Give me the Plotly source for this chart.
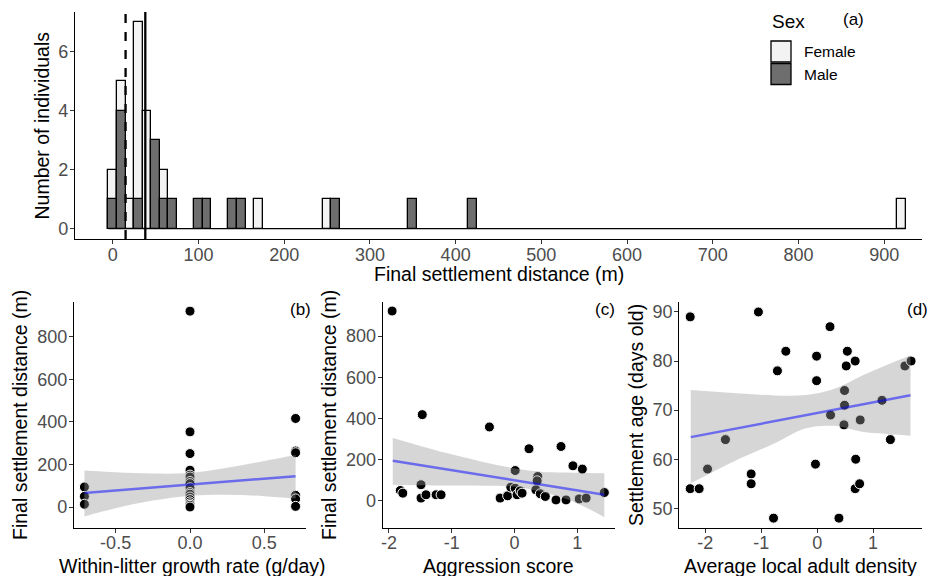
import plotly.graph_objects as go

W, H = 930, 576
FONT = "Liberation Sans, Arial, sans-serif"

# ---------------- (a) histogram data (bin centres, width 10 m) ----------------
female_bins = [0, 10, 20, 30, 40, 60, 170, 250, 920]
female_counts = [2, 5, 1, 7, 4, 2, 1, 1, 1]
male_bins = [0, 10, 30, 50, 60, 70, 100, 110, 140, 150, 260, 350, 420]
male_counts = [1, 4, 1, 3, 1, 1, 1, 1, 1, 1, 1, 1, 1]
bin_width = 10
hist_first_bin, hist_last_bin = 0, 920
dashed_line_x = 15
solid_line_x = 38
hist_xticks = [0, 100, 200, 300, 400, 500, 600, 700, 800, 900]
hist_yticks = [0, 2, 4, 6]

# ---------------- (b) growth rate vs distance ----------------
growth_x = [-0.71, -0.71, -0.71,
            0, 0, 0, 0, 0, 0, 0, 0, 0, 0, 0, 0, 0, 0, 0, 0, 0,
            0.71, 0.71, 0.71, 0.71, 0.71, 0.71]
growth_dist = [94, 50, 13,
               920, 353, 251, 173, 150, 141, 120, 110, 90, 68, 60, 47, 35, 24, 15, 8, 0,
               416, 263, 255, 55, 38, 3]
growth_fit_x = [-0.71, 0.71]
growth_fit_y = [66, 145]
growth_band_x = [-0.71, -0.5, -0.25, 0, 0.25, 0.5, 0.71]
growth_band_hi = [171, 163, 157, 160, 184, 216, 244]
growth_band_lo = [-44, -6, 30, 53, 58, 51, 40]

# ---------------- (c) aggression vs distance ----------------
aggr_x = [-1.95, -1.47, -1.82, -1.78, -1.49, -1.49, -1.41, -1.25, -1.17,
          -0.40, -0.23, -0.11, -0.06, 0.01, 0.01, 0.04, 0.09, 0.12,
          0.23, 0.37, 0.36, 0.34, 0.41, 0.49, 0.66, 0.74, 0.82,
          0.93, 1.03, 1.08, 1.14, 1.43]
aggr_dist = [922, 418, 49, 36, 77, 12, 28, 28, 28,
             358, 12, 23, 65, 146, 60, 28, 47, 36,
             252, 117, 96, 52, 33, 20, 3, 263, 3,
             169, 8, 153, 12, 39]
aggr_fit_x = [-1.94, 1.43]
aggr_fit_y = [194, 28]
aggr_band_x = [-1.94, -1.5, -1.08, -0.5, -0.02, 0.4, 0.78, 1.1, 1.43]
aggr_band_hi = [304, 266, 231, 188, 158, 140, 136, 134, 133]
aggr_band_lo = [77, 75, 73, 72, 68, 44, 12, -28, -81]

# ---------------- (d) density vs settlement age ----------------
dens_x = [-2.27, -2.27, -2.11, -1.96, -1.64, -1.18, -1.18, -1.05, -0.78, -0.71,
          -0.56, -0.01, -0.01, -0.03, 0.23, 0.24, 0.39, 0.48, 0.49, 0.49,
          0.54, 0.52, 0.68, 0.69, 0.68, 0.76, 0.77, 1.16, 1.31, 1.57, 1.68]
dens_age = [89, 54, 54, 58, 64, 57, 55, 90, 48, 78,
            82, 81, 76, 59, 87, 69, 48, 67, 71, 74,
            82, 79, 80, 60, 54, 55, 68, 72, 64, 79, 80]
dens_fit_x = [-2.26, 1.67]
dens_fit_y = [64.5, 73.05]
dens_band_x = [-2.26, -1.5, -0.75, -0.2, 0.3, 0.8, 1.2, 1.67]
dens_band_hi = [74.1, 73.5, 73.0, 73.1, 74.3, 77.0, 79.0, 81.2]
dens_band_lo = [55.1, 59.5, 63.3, 66.3, 66.8, 65.6, 65.2, 64.8]

tick_m = [-0.5, 0, 0.5]
tick_m_text = ["-0.5", "0.0", "0.5"]
tick_int = [-2, -1, 0, 1]
tick_int_text = ["-2", "-1", "0", "1"]
dist_ticks = [0, 200, 400, 600, 800]
age_ticks = [50, 60, 70, 80, 90]

FEMALE_FILL = "#F3F3F3"
MALE_FILL = "#6E6E6E"
RIBBON = "rgba(153,153,153,0.4)"
FITLINE = "rgba(0,0,255,0.5)"


def px(x):
    return x / W


def py(y):
    return 1 - y / H


fig = go.Figure()

# ---- histogram ----
fig.add_trace(go.Bar(x=female_bins, y=female_counts, width=bin_width,
                     marker=dict(color=FEMALE_FILL, line=dict(color="black", width=1.3)),
                     name="Female", showlegend=False, xaxis="x", yaxis="y"))
fig.add_trace(go.Bar(x=male_bins, y=male_counts, width=bin_width,
                     marker=dict(color=MALE_FILL, line=dict(color="black", width=1.3)),
                     name="Male", showlegend=False, xaxis="x", yaxis="y"))
fig.add_trace(go.Scatter(x=[hist_first_bin - bin_width / 2, hist_last_bin + bin_width / 2],
                         y=[0, 0], mode="lines", line=dict(color="black", width=1.3),
                         showlegend=False, hoverinfo="skip", xaxis="x", yaxis="y"))


def scatter_panel(xs, ys, fx, fy, bx, bhi, blo, xa, ya):
    fig.add_trace(go.Scatter(x=xs, y=ys, mode="markers",
                             marker=dict(color="black", size=10, line=dict(color="white", width=1)),
                             showlegend=False, xaxis=xa, yaxis=ya))
    fig.add_trace(go.Scatter(x=bx, y=blo, mode="lines", line=dict(width=0, color=RIBBON),
                             line_shape="spline", showlegend=False, hoverinfo="skip",
                             xaxis=xa, yaxis=ya))
    fig.add_trace(go.Scatter(x=bx, y=bhi, mode="lines", fill="tonexty", fillcolor=RIBBON,
                             line=dict(width=0, color=RIBBON), line_shape="spline",
                             showlegend=False, hoverinfo="skip", xaxis=xa, yaxis=ya))
    fig.add_trace(go.Scatter(x=fx, y=fy, mode="lines", line=dict(color=FITLINE, width=2.5),
                             showlegend=False, xaxis=xa, yaxis=ya))


scatter_panel(growth_x, growth_dist, growth_fit_x, growth_fit_y,
              growth_band_x, growth_band_hi, growth_band_lo, "x2", "y2")
scatter_panel(aggr_x, aggr_dist, aggr_fit_x, aggr_fit_y,
              aggr_band_x, aggr_band_hi, aggr_band_lo, "x3", "y3")
scatter_panel(dens_x, dens_age, dens_fit_x, dens_fit_y,
              dens_band_x, dens_band_hi, dens_band_lo, "x4", "y4")

tickfont = dict(family=FONT, size=18, color="#4D4D4D")
titlefont = dict(family=FONT, size=19.5, color="black")


def axis(domain, rng, tickvals, anchor, ticktext=None, standoff=-6):
    d = dict(domain=domain, range=rng, tickvals=tickvals, showline=True, linecolor="black",
             linewidth=1.2, ticks="outside", ticklen=4, tickwidth=1, tickcolor="#333333",
             tickfont=tickfont, showgrid=False, zeroline=False, anchor=anchor,
             automargin=False, ticklabelstandoff=standoff)
    if ticktext is not None:
        d["ticktext"] = ticktext
    return d


bot_dom = [py(528.3), py(302)]
fig.update_layout(
    width=W, height=H, margin=dict(l=0, r=0, t=0, b=0),
    paper_bgcolor="white", plot_bgcolor="white", barmode="overlay", bargap=0,
    font=dict(family=FONT),
    xaxis=axis([px(75), px(922)], [-44, 944], hist_xticks, "y", standoff=-5),
    yaxis=axis([py(239), py(12)], [-0.35, 7.35], hist_yticks, "x", standoff=-2),
    xaxis2=axis([px(74), px(306)], [-0.78, 0.78], tick_m, "y2", tick_m_text, standoff=-6),
    yaxis2=axis(bot_dom, [-100, 963], dist_ticks, "x2", standoff=-2),
    xaxis3=axis([px(382.7), px(615)], [-2.1, 1.6], tick_int, "y3", tick_int_text, standoff=-6),
    yaxis3=axis(bot_dom, [-135, 966], dist_ticks, "x3", standoff=-2),
    xaxis4=axis([px(679.3), px(921.7)], [-2.465, 1.87], tick_int, "y4", tick_int_text,
                standoff=-6),
    yaxis4=axis(bot_dom, [45.93, 92.03], age_ticks, "x4", standoff=-2),
)

# reference lines in panel (a)
fig.add_shape(type="line", xref="x", yref="y domain", x0=dashed_line_x, x1=dashed_line_x,
              y0=0, y1=1, line=dict(color="black", width=2.3, dash="dash"))
fig.add_shape(type="line", xref="x", yref="y domain", x0=solid_line_x, x1=solid_line_x,
              y0=0, y1=1, line=dict(color="black", width=2.3))

# legend (drawn manually to match key size)
fig.add_shape(type="rect", xref="paper", yref="paper", x0=px(771), x1=px(791),
              y0=py(62), y1=py(41), fillcolor=FEMALE_FILL, line=dict(color="black", width=1.3))
fig.add_shape(type="rect", xref="paper", yref="paper", x0=px(771), x1=px(791),
              y0=py(84.5), y1=py(63.5), fillcolor=MALE_FILL, line=dict(color="black", width=1.3))

small = dict(family=FONT, size=17, color="black")
ann = [
    dict(text="Sex", x=px(770), y=py(22), xanchor="left", yanchor="middle",
         font=dict(family=FONT, size=19, color="black")),
    dict(text="Female", x=px(802), y=py(51.5), xanchor="left", yanchor="middle",
         font=dict(family=FONT, size=15.5, color="black")),
    dict(text="Male", x=px(802), y=py(74), xanchor="left", yanchor="middle",
         font=dict(family=FONT, size=15.5, color="black")),
    dict(text="(a)", x=px(841), y=py(20), xanchor="left", yanchor="middle", font=small),
    dict(text="(b)", x=px(313), y=py(309), xanchor="right", yanchor="middle", font=small),
    dict(text="(c)", x=px(617), y=py(309), xanchor="right", yanchor="middle", font=small),
    dict(text="(d)", x=px(930), y=py(309), xanchor="right", yanchor="middle", font=small),
    # axis titles
    dict(text="Final settlement distance (m)", x=px(498.5), y=py(274),
         xanchor="center", yanchor="middle", font=titlefont),
    dict(text="Number of individuals", x=px(42), y=py(125.5), textangle=-90,
         xanchor="center", yanchor="middle", font=titlefont),
    dict(text="Within-litter growth rate (g/day)", x=px(57), y=py(566),
         xanchor="left", yanchor="middle", font=titlefont),
    dict(text="Aggression score", x=px(499), y=py(566),
         xanchor="center", yanchor="middle", font=titlefont),
    dict(text="Average local adult density", x=px(800.5), y=py(566),
         xanchor="center", yanchor="middle", font=titlefont),
    dict(text="Final settlement distance (m)", x=px(20), y=py(415), textangle=-90,
         xanchor="center", yanchor="middle", font=titlefont),
    dict(text="Final settlement distance (m)", x=px(329), y=py(415), textangle=-90,
         xanchor="center", yanchor="middle", font=titlefont),
    dict(text="Settlement age (days old)", x=px(636), y=py(415), textangle=-90,
         xanchor="center", yanchor="middle", font=titlefont),
]
for a in ann:
    a.update(xref="paper", yref="paper", showarrow=False)
fig.update_layout(annotations=ann)

fig.write_html("out.html", config={"displayModeBar": False},
               post_script="document.body.style.margin='0';document.body.style.overflow='hidden';")
